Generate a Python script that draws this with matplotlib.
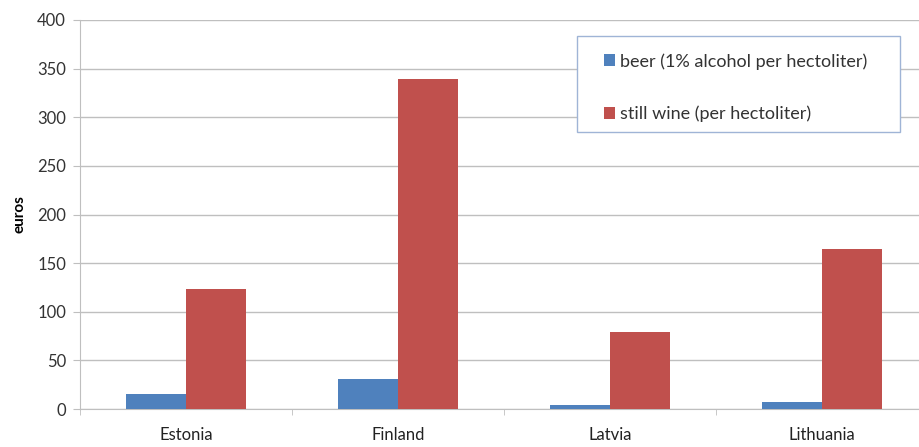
import matplotlib
matplotlib.use("Agg")
import matplotlib.pyplot as plt
from matplotlib.patches import Rectangle
import numpy as np

countries = ["Estonia", "Finland", "Latvia", "Lithuania"]
beer = [15, 31, 4, 7]
wine = [123, 339, 79, 165]
series_names = ["beer (1% alcohol per hectoliter)", "still wine (per hectoliter)"]
y_ticks = [0, 50, 100, 150, 200, 250, 300, 350, 400]

plt.rcParams["font.family"] = ["Lato", "DejaVu Sans"]

W, H = 920, 447
fig = plt.figure(figsize=(W / 100, H / 100), dpi=100)
ax = fig.add_axes([80 / W, 1 - 409 / H, 848 / W, 389 / H])

x = np.arange(len(countries))
w = 0.283
ax.bar(x - w / 2, beer, width=w, color="#4F81BD", label=series_names[0], zorder=3)
ax.bar(x + w / 2, wine, width=w, color="#C0504D", label=series_names[1], zorder=3)

ax.set_xlim(-0.5, len(countries) - 0.5)
ax.set_ylim(0, 400)
ax.set_yticks(y_ticks)
ax.set_yticklabels([str(v) for v in y_ticks], fontsize=12, color="#333333")
ax.yaxis.grid(True, color="#BFBFBF", linewidth=1.0, zorder=0)

ax.set_xticks(x)
ax.set_xticklabels(countries, fontsize=12, color="#222222")
ax.tick_params(axis="x", length=0, pad=13)
ax.set_xticks(np.arange(len(countries) + 1) - 0.5, minor=True)
ax.tick_params(axis="x", which="minor", length=4, color="#BFBFBF")
ax.tick_params(axis="y", length=5, color="#BFBFBF", pad=5)

for side in ["top", "right"]:
    ax.spines[side].set_visible(False)
ax.spines["left"].set_color("#BFBFBF")
ax.spines["bottom"].set_color("#BFBFBF")

ax.set_ylabel("euros", fontsize=11, fontweight="bold", labelpad=8)

# Legend box drawn in figure pixels, entries placed inside it
box = Rectangle((577 / W, 1 - 132 / H), (900 - 577) / W, (132 - 36) / H,
                transform=fig.transFigure, facecolor="white",
                edgecolor="#9FB4D6", linewidth=1.0, zorder=5)
fig.patches.append(box)

leg = fig.legend(*ax.get_legend_handles_labels(), loc="upper left",
                 bbox_to_anchor=(604 / W, 1 - 53 / H),
                 frameon=False, fontsize=13, handlelength=0.6,
                 handleheight=0.6, handletextpad=0.3, labelspacing=2.0,
                 borderpad=0, borderaxespad=0)
leg.set_zorder(6)
for t in leg.get_texts():
    t.set_color("#333333")

fig.savefig("out.png", dpi=100)
